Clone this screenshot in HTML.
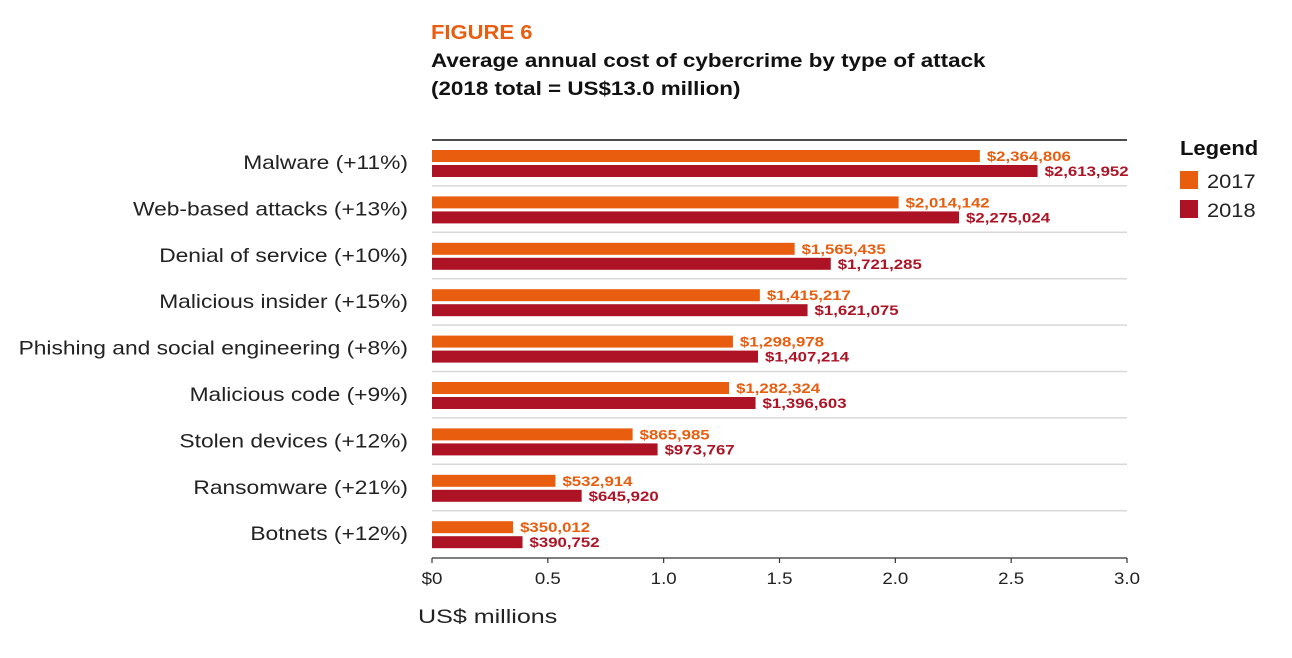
<!DOCTYPE html>
<html><head><meta charset="utf-8"><style>
body{margin:0;background:#fff;width:1292px;height:653px;overflow:hidden;font-family:"Liberation Sans",sans-serif}
</style></head><body>
<svg width="1292" height="653">
<text transform="translate(431,39) scale(1.1,1)" font-size="20" font-weight="bold" fill="#e85d10">FIGURE 6</text>
<text transform="translate(431,67) scale(1.18,1)" font-size="19" font-weight="bold" fill="#111">Average annual cost of cybercrime by type of attack</text>
<text transform="translate(431,95) scale(1.18,1)" font-size="19" font-weight="bold" fill="#111">(2018 total = US$13.0 million)</text>
<g id="plot"></g>
<text transform="translate(1180,155) scale(1.1,1)" font-size="20" font-weight="bold" fill="#111">Legend</text>
<rect x="1180" y="171" width="18" height="18" fill="#e95d0f"/>
<text transform="translate(1207,188) scale(1.15,1)" font-size="19" fill="#222">2017</text>
<rect x="1180" y="200" width="18" height="18" fill="#ad1324"/>
<text transform="translate(1207,217) scale(1.15,1)" font-size="19" fill="#222">2018</text>
<text transform="translate(418,623) scale(1.32,1)" font-size="19" fill="#222">US$ millions</text>
</svg>
<script>
const categories=["Malware (+11%)","Web-based attacks (+13%)","Denial of service (+10%)","Malicious insider (+15%)","Phishing and social engineering (+8%)","Malicious code (+9%)","Stolen devices (+12%)","Ransomware (+21%)","Botnets (+12%)"];
const values2017=[2364806,2014142,1565435,1415217,1298978,1282324,865985,532914,350012];
const values2018=[2613952,2275024,1721285,1621075,1407214,1396603,973767,645920,390752];
const ticks=[0,0.5,1.0,1.5,2.0,2.5,3.0];
const tickLabels=["$0","0.5","1.0","1.5","2.0","2.5","3.0"];
const NS="http://www.w3.org/2000/svg";
const g=document.getElementById('plot');
const X0=432,X1=1127,XMAX=3.0;
const x=v=>X0+(v/1e6)/XMAX*(X1-X0);
const xt=t=>X0+t/XMAX*(X1-X0);
const TOP=140,PITCH=46.4;
function mk(tag,a){const e=document.createElementNS(NS,tag);for(const k in a)e.setAttribute(k,a[k]);g.appendChild(e);return e;}
const fmt=v=>"$"+v.toLocaleString("en-US");
let l=mk('line',{x1:X0,x2:X1,y1:TOP,y2:TOP,stroke:'#111','stroke-width':1.5});


categories.forEach((c,i)=>{
  const y=TOP+10+i*PITCH;
  if(i>0){const s=mk('line',{x1:X0,x2:X1,y1:y-10.5,y2:y-10.5,stroke:'#d8d8d8','stroke-width':1.5});
    
    }
  const t=mk('text',{transform:`translate(408,${y+19}) scale(1.2,1)`,'font-size':19,fill:'#222','text-anchor':'end'});t.textContent=c;
  
  
  const b1=mk('rect',{x:X0,y:y,width:x(values2017[i])-X0,height:12,fill:'#e95d0f'});
  
  
  const b2=mk('rect',{x:X0,y:y+15,width:x(values2018[i])-X0,height:12,fill:'#ad1324'});
  
  
  const v1=mk('text',{transform:`translate(${x(values2017[i])+7},${y+11}) scale(1.2,1)`,'font-size':14,'font-weight':'bold',fill:'#e95d0f'});v1.textContent=fmt(values2017[i]);
  
  
  const v2=mk('text',{transform:`translate(${x(values2018[i])+7},${y+26}) scale(1.2,1)`,'font-size':14,'font-weight':'bold',fill:'#ad1324'});v2.textContent=fmt(values2018[i]);
  
  
});
const ay=558;
const ax=mk('line',{x1:X0,x2:X1,y1:ay,y2:ay,stroke:'#333','stroke-width':1.2});


ticks.forEach((t,i)=>{
  const tk=mk('line',{x1:xt(t),x2:xt(t),y1:ay,y2:ay+5,stroke:'#333','stroke-width':1.2});
  
  
  const tl=mk('text',{transform:`translate(${xt(t)},${ay+26}) scale(1.1,1)`,'font-size':17,fill:'#222','text-anchor':'middle'});tl.textContent=tickLabels[i];
  
  
});
</script>
</body></html>
